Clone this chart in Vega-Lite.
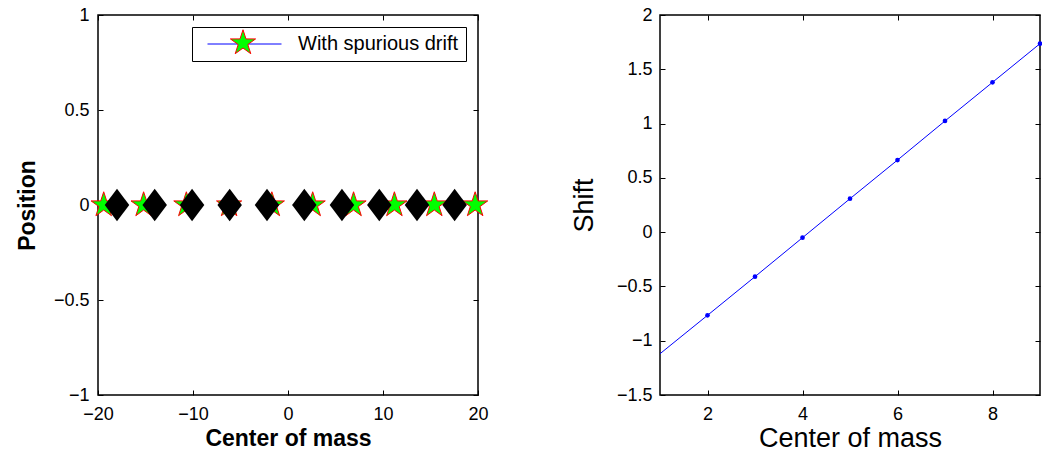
{
  "$schema": "https://vega.github.io/schema/vega-lite/v6.json",
  "background": "white",
  "padding": {"left": 15, "top": 5, "right": 5, "bottom": 5},
  "config": {
    "font": "Liberation Sans",
    "view": {"stroke": "black", "strokeWidth": 1.5},
    "axis": {
      "domain": false, "grid": false, "ticks": true, "tickColor": "black", "tickSize": 5, "tickWidth": 1,
      "labelColor": "black", "labelFontSize": 18, "labelFont": "Liberation Sans", "labelPadding": 6,
      "titleColor": "black", "titleFont": "Liberation Sans", "labelFlush": false
    },
    "concat": {"spacing": 78}
  },
  "datasets": {
    "stars": [
      {"cx": -19.4, "cy": 0, "series": "With spurious drift", "lineseries": "With spurious drift"},
      {"cx": -15.2, "cy": 0, "series": "With spurious drift", "lineseries": "With spurious drift"},
      {"cx": -10.7, "cy": 0, "series": "With spurious drift", "lineseries": "With spurious drift"},
      {"cx": -6.2, "cy": 0, "series": "With spurious drift", "lineseries": "With spurious drift"},
      {"cx": -1.7, "cy": 0, "series": "With spurious drift", "lineseries": "With spurious drift"},
      {"cx": 2.6, "cy": 0, "series": "With spurious drift", "lineseries": "With spurious drift"},
      {"cx": 6.9, "cy": 0, "series": "With spurious drift", "lineseries": "With spurious drift"},
      {"cx": 11.2, "cy": 0, "series": "With spurious drift", "lineseries": "With spurious drift"},
      {"cx": 15.4, "cy": 0, "series": "With spurious drift", "lineseries": "With spurious drift"},
      {"cx": 19.7, "cy": 0, "series": "With spurious drift", "lineseries": "With spurious drift"}
    ],
    "diamonds": [
      {"cx": -18.0, "cy": 0}, {"cx": -14.03, "cy": 0}, {"cx": -10.1, "cy": 0}, {"cx": -6.14, "cy": 0},
      {"cx": -2.21, "cy": 0}, {"cx": 1.72, "cy": 0}, {"cx": 5.68, "cy": 0}, {"cx": 9.61, "cy": 0},
      {"cx": 13.58, "cy": 0}, {"cx": 17.54, "cy": 0}
    ],
    "shiftdata": [
      {"com": 1, "shift": -1.12, "marker": false},
      {"com": 2, "shift": -0.766, "marker": true},
      {"com": 3, "shift": -0.41, "marker": true},
      {"com": 4, "shift": -0.051, "marker": true},
      {"com": 5, "shift": 0.308, "marker": true},
      {"com": 6, "shift": 0.664, "marker": true},
      {"com": 7, "shift": 1.024, "marker": true},
      {"com": 8, "shift": 1.38, "marker": true},
      {"com": 9, "shift": 1.736, "marker": true}
    ]
  },
  "hconcat": [
    {
      "width": 380,
      "height": 380,
      "layer": [
        {
          "data": {"name": "stars"},
          "mark": {"type": "line", "opacity": 0, "strokeWidth": 1},
          "encoding": {
            "x": {"field": "cx", "type": "quantitative", "scale": {"domain": [-20, 20], "nice": false},
                  "axis": {"orient": "bottom", "values": [-20, -10, 0, 10, 20], "labels": false, "title": null, "offset": -5}},
            "y": {"field": "cy", "type": "quantitative", "scale": {"domain": [-1, 1], "nice": false},
                  "axis": {"orient": "left", "values": [-1, -0.5, 0, 0.5, 1], "labels": false, "title": null, "offset": -5}},
            "stroke": {
              "field": "lineseries", "type": "nominal",
              "scale": {"range": ["#0000ff"]},
              "legend": {
                "orient": "none", "legendX": 94, "legendY": 12, "title": null,
                "symbolType": "stroke", "symbolSize": 5476, "symbolStrokeWidth": 1, "symbolOpacity": 1,
                "symbolStrokeColor": "#0000ff", "clipHeight": 20,
                "padding": 7, "symbolOffset": 8, "labelOffset": 16, "labelLimit": 400,
                "labelFontSize": 20, "labelColor": "black", "labelFont": "Liberation Sans",
                "strokeColor": "black", "fillColor": "white", "zindex": 0
              }
            }
          }
        },
        {
          "data": {"name": "stars"},
          "mark": {"type": "point", "shape": "M0,-1L0.2245,-0.309L0.951,-0.309L0.3633,0.118L0.588,0.809L0,0.382L-0.588,0.809L-0.3633,0.118L-0.951,-0.309L-0.2245,-0.309Z", "filled": true, "size": 700, "stroke": "#ff0000", "strokeWidth": 1, "opacity": 1},
          "encoding": {
            "x": {"field": "cx", "type": "quantitative", "scale": {"domain": [-20, 20], "nice": false},
                  "axis": {"orient": "bottom", "values": [-20, -10, 0, 10, 20], "format": "~r", "ticks": false, "labelPadding": 10, "title": "Center of mass", "titleFontSize": 23, "titleFontWeight": "bold", "titlePadding": 4}},
            "y": {"field": "cy", "type": "quantitative", "scale": {"domain": [-1, 1], "nice": false},
                  "axis": {"orient": "left", "values": [-1, -0.5, 0, 0.5, 1], "format": "~r", "ticks": false, "labelPadding": 9, "title": "Position", "titleFontSize": 23, "titleFontWeight": "bold", "titlePadding": 14}},
            "fill": {
              "field": "series", "type": "nominal",
              "scale": {"range": ["#00ff00"]},
              "legend": {
                "orient": "none", "legendX": 131, "legendY": 14, "title": null,
                "symbolType": "M0,-1L0.2245,-0.309L0.951,-0.309L0.3633,0.118L0.588,0.809L0,0.382L-0.588,0.809L-0.3633,0.118L-0.951,-0.309L-0.2245,-0.309Z",
                "symbolSize": 700, "symbolStrokeColor": "#ff0000", "symbolStrokeWidth": 1,
                "symbolFillColor": "#00ff00", "symbolOpacity": 1,
                "padding": 0, "labelOpacity": 0, "labelFontSize": 8, "labelOffset": 0, "labelLimit": 1,
                "zindex": 1
              }
            }
          }
        },
        {
          "data": {"name": "diamonds"},
          "mark": {"type": "point", "shape": "M0,-1.32L1,0L0,1.32L-1,0Z", "filled": true, "size": 600, "color": "black", "opacity": 1},
          "encoding": {
            "x": {"field": "cx", "type": "quantitative", "scale": {"domain": [-20, 20], "nice": false},
                  "axis": {"orient": "top", "values": [-20, -10, 0, 10, 20], "labels": false, "title": null, "offset": -5}},
            "y": {"field": "cy", "type": "quantitative", "scale": {"domain": [-1, 1], "nice": false},
                  "axis": {"orient": "right", "values": [-1, -0.5, 0, 0.5, 1], "labels": false, "title": null, "offset": -5}}
          }
        }
      ],
      "resolve": {"axis": {"x": "independent", "y": "independent"}}
    },
    {
      "width": 380,
      "height": 380,
      "data": {"name": "shiftdata"},
      "layer": [
        {
          "mark": {"type": "line", "color": "#0000ff", "strokeWidth": 1, "clip": true},
          "encoding": {
            "x": {"field": "com", "type": "quantitative", "scale": {"domain": [1, 9], "nice": false},
                  "axis": {"orient": "bottom", "values": [2, 4, 6, 8], "format": "~r", "ticks": false, "labelPadding": 10, "title": "Center of mass", "titleFontSize": 27, "titleFontWeight": "normal", "titlePadding": 2}},
            "y": {"field": "shift", "type": "quantitative", "scale": {"domain": [-1.5, 2], "nice": false},
                  "axis": {"orient": "left", "values": [-1.5, -1, -0.5, 0, 0.5, 1, 1.5, 2], "format": "~r", "ticks": false, "labelPadding": 8, "title": "Shift", "titleFontSize": 27, "titleFontWeight": "normal", "titlePadding": 18}}
          }
        },
        {
          "mark": {"type": "line", "opacity": 0},
          "encoding": {
            "x": {"field": "com", "type": "quantitative", "scale": {"domain": [1, 9], "nice": false},
                  "axis": {"orient": "bottom", "values": [2, 4, 6, 8], "labels": false, "title": null, "offset": -5}},
            "y": {"field": "shift", "type": "quantitative", "scale": {"domain": [-1.5, 2], "nice": false},
                  "axis": {"orient": "left", "values": [-1.5, -1, -0.5, 0, 0.5, 1, 1.5, 2], "labels": false, "title": null, "offset": -5}}
          }
        },
        {
          "transform": [{"filter": "datum.marker"}],
          "mark": {"type": "point", "shape": "circle", "filled": true, "size": 22, "color": "#0000ff", "opacity": 1},
          "encoding": {
            "x": {"field": "com", "type": "quantitative", "scale": {"domain": [1, 9], "nice": false},
                  "axis": {"orient": "top", "values": [2, 4, 6, 8], "labels": false, "title": null, "offset": -5}},
            "y": {"field": "shift", "type": "quantitative", "scale": {"domain": [-1.5, 2], "nice": false},
                  "axis": {"orient": "right", "values": [-1.5, -1, -0.5, 0, 0.5, 1, 1.5, 2], "labels": false, "title": null, "offset": -5}}
          }
        }
      ],
      "resolve": {"axis": {"x": "independent", "y": "independent"}}
    }
  ]
}
